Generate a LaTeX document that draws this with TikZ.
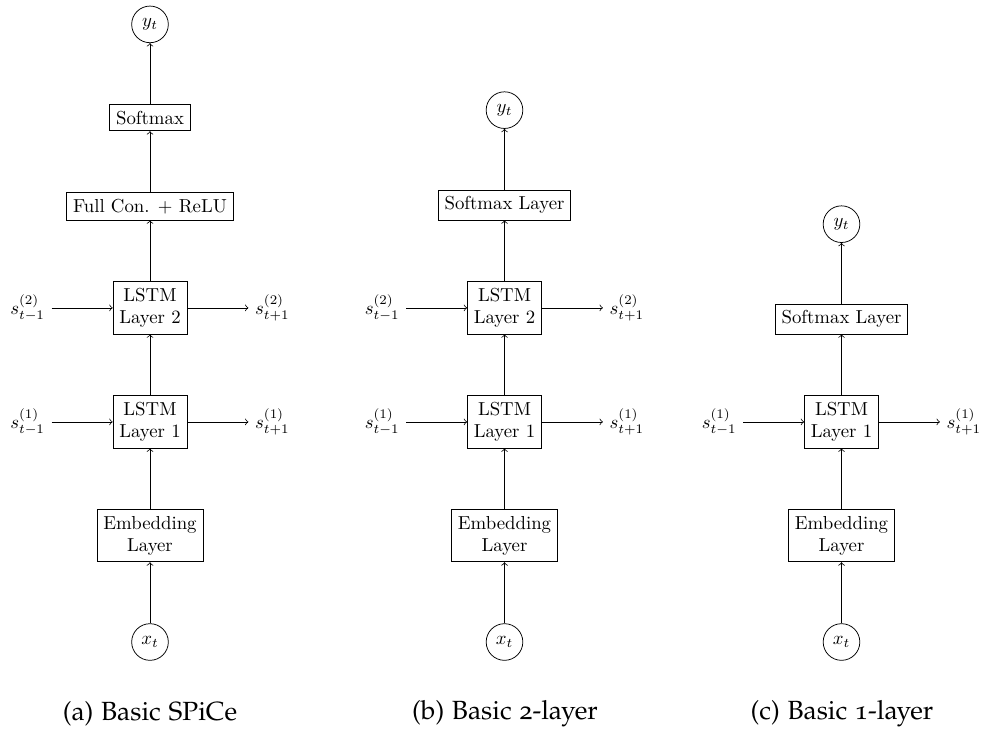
\documentclass[tikz,border=0pt]{standalone}
\usepackage[T1,TU]{fontenc}
\usetikzlibrary{positioning}

% caption face: Palatino with old-style figures
\newcommand{\capfont}{\fontencoding{T1}\fontfamily{pplj}\fontsize{14pt}{17pt}\selectfont}

\tikzset{
  layer/.style={draw, align=center, inner sep=.3333em},
  io/.style={draw, circle, minimum size=19.5pt, inner sep=1pt},
  statelbl/.style={inner sep=.3333em},
  flow/.style={->},
  subcap/.style={inner sep=0pt, font=\capfont},
}

\begin{document}
\begin{tikzpicture}[x=0.532pt, y=-0.532pt, node distance=32.5pt]
\useasboundingbox (0,0) rectangle (982,731);

% ---------- (a) Basic SPiCe ----------
\node[io] (ax) at (150,642) {$x_t$};
\node[layer, above=of ax] (aemb) {Embedding\\Layer};
\node[layer, above=of aemb] (al1) {LSTM\\Layer 1};
\node[layer, above=of al1] (al2) {LSTM\\Layer 2};
\node[layer, above=of al2] (afc) {Full Con. + ReLU};
\node[layer, above=of afc] (asm) {Softmax};
\node[io, above=of asm] (ay) {$y_t$};
\node[statelbl, left=of al1] (ap1) {$s_{t-1}^{(1)}$};
\node[statelbl, right=of al1] (an1) {$s_{t+1}^{(1)}$};
\node[statelbl, left=of al2] (ap2) {$s_{t-1}^{(2)}$};
\node[statelbl, right=of al2] (an2) {$s_{t+1}^{(2)}$};
\draw[flow] (ax) -- (aemb);
\draw[flow] (aemb) -- (al1);
\draw[flow] (al1) -- (al2);
\draw[flow] (al2) -- (afc);
\draw[flow] (afc) -- (asm);
\draw[flow] (asm) -- (ay);
\draw[flow] (ap1) -- (al1);
\draw[flow] (al1) -- (an1);
\draw[flow] (ap2) -- (al2);
\draw[flow] (al2) -- (an2);
\node[subcap] (capa) at (150,714) {(a) Basic SPiCe};

% ---------- (b) Basic 2-layer ----------
\node[io] (bx) at (504.5,642) {$x_t$};
\node[layer, above=of bx] (bemb) {Embedding\\Layer};
\node[layer, above=of bemb] (bl1) {LSTM\\Layer 1};
\node[layer, above=of bl1] (bl2) {LSTM\\Layer 2};
\node[layer, above=of bl2] (bsm) {Softmax Layer};
\node[io, above=of bsm] (by) {$y_t$};
\node[statelbl, left=of bl1] (bp1) {$s_{t-1}^{(1)}$};
\node[statelbl, right=of bl1] (bn1) {$s_{t+1}^{(1)}$};
\node[statelbl, left=of bl2] (bp2) {$s_{t-1}^{(2)}$};
\node[statelbl, right=of bl2] (bn2) {$s_{t+1}^{(2)}$};
\draw[flow] (bx) -- (bemb);
\draw[flow] (bemb) -- (bl1);
\draw[flow] (bl1) -- (bl2);
\draw[flow] (bl2) -- (bsm);
\draw[flow] (bsm) -- (by);
\draw[flow] (bp1) -- (bl1);
\draw[flow] (bl1) -- (bn1);
\draw[flow] (bp2) -- (bl2);
\draw[flow] (bl2) -- (bn2);
\node[subcap] (capb) at (505,714) {(b) Basic 2-layer};

% ---------- (c) Basic 1-layer ----------
\node[io] (cx) at (841.5,642) {$x_t$};
\node[layer, above=of cx] (cemb) {Embedding\\Layer};
\node[layer, above=of cemb] (cl1) {LSTM\\Layer 1};
\node[layer, above=of cl1] (csm) {Softmax Layer};
\node[io, above=of csm] (cy) {$y_t$};
\node[statelbl, left=of cl1] (cp1) {$s_{t-1}^{(1)}$};
\node[statelbl, right=of cl1] (cn1) {$s_{t+1}^{(1)}$};
\draw[flow] (cx) -- (cemb);
\draw[flow] (cemb) -- (cl1);
\draw[flow] (cl1) -- (csm);
\draw[flow] (csm) -- (cy);
\draw[flow] (cp1) -- (cl1);
\draw[flow] (cl1) -- (cn1);
\node[subcap] (capc) at (842,714) {(c) Basic 1-layer};
\end{tikzpicture}
\end{document}
